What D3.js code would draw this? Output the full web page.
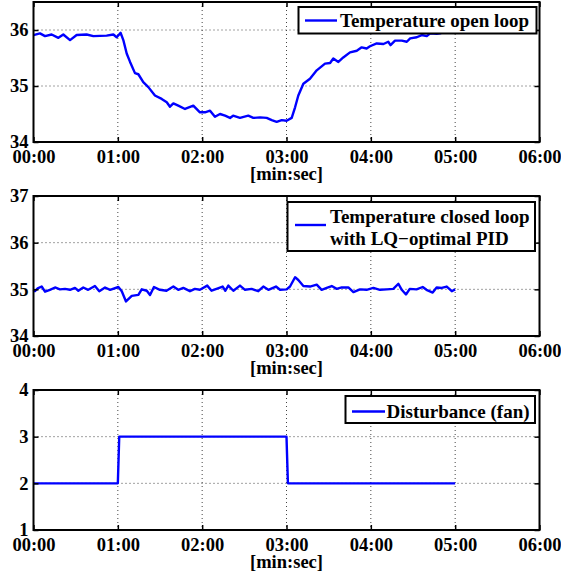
<!DOCTYPE html>
<html>
<head>
<meta charset="utf-8">
<script src="https://cdn.jsdelivr.net/npm/d3@7"></script>
<style>
  body { margin: 0; background: #fff; }
  text { font-family: "Liberation Serif", "Times New Roman", serif; font-weight: bold; fill: #000; }
</style>
</head>
<body>
<div class="chart"></div>
<script>
// time in seconds
var openTime = [0, 4.6, 8.2, 12.9, 17.7, 21.2, 26, 30.7, 37.8, 42.6, 52, 56.8, 59.2, 62, 63.9, 66.3, 68.7, 72.2, 74.6, 78.1,
  81.7, 86.4, 91.2, 94.8, 97.1, 99.5, 103, 107.8, 113.7, 118.4, 122, 125.6, 129.1, 132.7, 136.3, 139.8, 142, 146.9, 152.8,
  156.4, 161.2, 165.9, 169.5, 173, 176.6, 180.1, 183.7, 186.1, 188.4, 192, 196.7, 201.5, 207.4, 211, 213.3, 216.9, 220.4,
  225.2, 230, 233.5, 237, 239.4, 244.2, 249, 252.4, 254, 257.2, 262, 265.6, 268, 272.7, 276.2, 279.8, 282.2, 286.9, 289.3, 295];
var openTemp = [35.91, 35.94, 35.89, 35.92, 35.86, 35.92, 35.82, 35.91, 35.92, 35.89, 35.9, 35.92, 35.87, 35.95, 35.82, 35.58,
  35.43, 35.23, 35.21, 35.07, 34.98, 34.83, 34.77, 34.71, 34.63, 34.69, 34.65, 34.59, 34.65, 34.53, 34.53, 34.56, 34.45,
  34.5, 34.47, 34.43, 34.47, 34.43, 34.47, 34.43, 34.44, 34.43, 34.39, 34.36, 34.39, 34.38, 34.43, 34.62, 34.83, 35.04,
  35.13, 35.28, 35.4, 35.41, 35.49, 35.43, 35.51, 35.6, 35.63, 35.69, 35.67, 35.71, 35.76, 35.75, 35.79, 35.73, 35.81,
  35.81, 35.79, 35.85, 35.87, 35.91, 35.89, 35.94, 35.93, 35.94, 36.0];

var closedTime = [0, 1, 3, 5.8, 8.2, 11.7, 15.3, 18.8, 22.4, 26, 29.5, 31.9, 35.4, 38.9, 43.7, 46.8, 50.9, 54.5, 60.4, 62.8,
  65.8, 69.9, 74.6, 77, 80.6, 82.9, 85.7, 89.9, 94.6, 99.5, 103, 106.6, 111.3, 114.8, 118.4, 123.6, 126.7, 130.2, 134.6,
  136.5, 138.6, 142.2, 146.9, 150.5, 155.2, 159.9, 163.5, 167.1, 172.5, 175.4, 180.1, 182.5, 186.1, 188.4, 192, 196.7,
  201.5, 205, 208.6, 212.2, 215.7, 219.3, 224, 227.6, 232.3, 237, 241.8, 246.5, 251.3, 256, 259.6, 262, 265, 267.7, 272.5,
  276.9, 279.6, 284, 286.8, 290.4, 294, 297.6, 300];
var closedTemp = [34.99, 34.96, 35.02, 35.06, 34.95, 34.99, 35.04, 35.0, 35.01, 34.99, 35.03, 34.97, 35.04, 34.99, 35.07,
  34.96, 35.04, 34.99, 35.05, 34.96, 34.74, 34.86, 34.88, 35.0, 34.97, 34.88, 35.05, 34.99, 34.97, 35.06, 34.99, 35.03,
  34.96, 35.01, 34.99, 35.08, 34.97, 35.01, 35.06, 34.97, 35.08, 34.97, 35.08, 34.99, 35.01, 34.96, 35.06, 34.99, 35.06,
  34.99, 35.0, 35.06, 35.26, 35.2, 35.07, 35.06, 35.1, 34.99, 35.03, 35.07, 35.01, 35.04, 35.04, 34.94, 35.0, 34.99, 35.03,
  34.99, 35.0, 35.01, 35.12, 34.99, 34.89, 35.01, 35.0, 35.05, 34.99, 34.93, 35.04, 35.03, 35.06, 34.96, 35.0];

var fanTime = [0, 60, 61, 180, 181, 300];
var fanLevel = [2, 2, 3, 3, 2, 2];

var timeTicks = [0, 60, 120, 180, 240, 300, 360];
var topTicks = [34, 35, 36];
var midTicks = [34, 35, 36, 37];
var botTicks = [1, 2, 3, 4];

var legendTop = ["Temperature open loop"];
var legendMid = ["Temperature closed loop", "with LQ\u2212optimal PID"];
var legendBot = ["Disturbance (fan)"];
var xLabel = "[min:sec]";

var svgWidth = 561, svgHeight = 577;
var left = 33.5, right = 539.5;

var svg = d3.select(".chart").append("svg")
  .attr("width", svgWidth)
  .attr("height", svgHeight);

var x = d3.scaleLinear().domain([0, 360]).range([left, right]);

function fmt(s) {
  var m = Math.floor(s / 60), r = s % 60;
  return (m < 10 ? "0" : "") + m + ":" + (r < 10 ? "0" : "") + r;
}

function panel(top, bottom, yDomain, yTicks, times, vals, legend, lg) {
  var y = d3.scaleLinear().domain(yDomain).range([bottom, top]);
  var h = bottom - top;
  var g = svg.append("g");

  // dotted grid
  g.append("g").selectAll("line")
    .data(timeTicks.filter(function(t) { return t > 0 && t < 360; }))
    .enter().append("line")
    .attr("x1", function(d) { return x(d); }).attr("x2", function(d) { return x(d); })
    .attr("y1", top).attr("y2", bottom)
    .attr("stroke", "#444").attr("stroke-width", 1).attr("stroke-dasharray", "1,3");
  g.append("g").selectAll("line")
    .data(yTicks.filter(function(t) { return t > yDomain[0] && t < yDomain[1]; }))
    .enter().append("line")
    .attr("x1", left).attr("x2", right)
    .attr("y1", function(d) { return y(d); }).attr("y2", function(d) { return y(d); })
    .attr("stroke", "#444").attr("stroke-width", 1).attr("stroke-dasharray", "1,3");

  // the data line
  var pts = times.map(function(t, i) { return [t, vals[i]]; });
  g.append("path")
    .datum(pts)
    .attr("fill", "none")
    .attr("stroke", "#0000ff")
    .attr("stroke-width", 2.4)
    .attr("stroke-linejoin", "round")
    .attr("d", d3.line().x(function(d) { return x(d[0]); }).y(function(d) { return y(d[1]); }));

  // axes with inward ticks
  var bAxis = g.append("g").attr("transform", "translate(0," + bottom + ")")
    .call(d3.axisBottom(x).tickValues(timeTicks).tickFormat(fmt).tickSize(-5).tickPadding(8));
  var tAxis = g.append("g").attr("transform", "translate(0," + top + ")")
    .call(d3.axisTop(x).tickValues(timeTicks).tickFormat("").tickSize(-5));
  var lAxis = g.append("g").attr("transform", "translate(" + left + ",0)")
    .call(d3.axisLeft(y).tickValues(yTicks).tickFormat(d3.format("d")).tickSize(-5).tickPadding(5));
  var rAxis = g.append("g").attr("transform", "translate(" + right + ",0)")
    .call(d3.axisRight(y).tickValues(yTicks).tickFormat("").tickSize(-5));
  [bAxis, tAxis, lAxis, rAxis].forEach(function(a) {
    a.select(".domain").remove();
    a.selectAll(".tick line").attr("stroke", "#000").attr("stroke-width", 1.5);
    a.selectAll("text").attr("font-size", 18.5).attr("font-family", null);
  });

  g.append("rect")
    .attr("x", left).attr("y", top).attr("width", right - left).attr("height", h)
    .attr("fill", "none").attr("stroke", "#000").attr("stroke-width", 2);

  g.append("text")
    .attr("x", (left + right) / 2).attr("y", bottom + 38)
    .attr("text-anchor", "middle").attr("font-size", 18.5)
    .text(xLabel);

  // legend
  var lgG = g.append("g");
  lgG.append("rect")
    .attr("x", lg.x0).attr("y", lg.y0).attr("width", lg.x1 - lg.x0).attr("height", lg.y1 - lg.y0)
    .attr("fill", "#fff").attr("stroke", "#000").attr("stroke-width", 2);
  lgG.append("line")
    .attr("x1", lg.lx0).attr("x2", lg.lx1).attr("y1", lg.ly).attr("y2", lg.ly)
    .attr("stroke", "#0000ff").attr("stroke-width", 2.4);
  lgG.selectAll("text.lg").data(legend).enter().append("text")
    .attr("class", "lg")
    .attr("x", lg.tx)
    .attr("y", function(d, i) { return lg.ty + i * 21.5; })
    .attr("font-size", 19)
    .text(function(d) { return d; });
}

panel(2, 142, [34, 36.5], topTicks, openTime, openTemp, legendTop,
  { x0: 298.5, x1: 536.5, y0: 7, y1: 33.5, lx0: 305, lx1: 337, ly: 20.5, tx: 340, ty: 26.5 });
panel(196, 336, [34, 37], midTicks, closedTime, closedTemp, legendMid,
  { x0: 287.5, x1: 535, y0: 202, y1: 251, lx0: 295, lx1: 326, ly: 225, tx: 330, ty: 223 });
panel(390, 530, [1, 4], botTicks, fanTime, fanLevel, legendBot,
  { x0: 345.5, x1: 535, y0: 396, y1: 423, lx0: 352, lx1: 385, ly: 411.5, tx: 386.5, ty: 417.5 });
</script>
</body>
</html>
